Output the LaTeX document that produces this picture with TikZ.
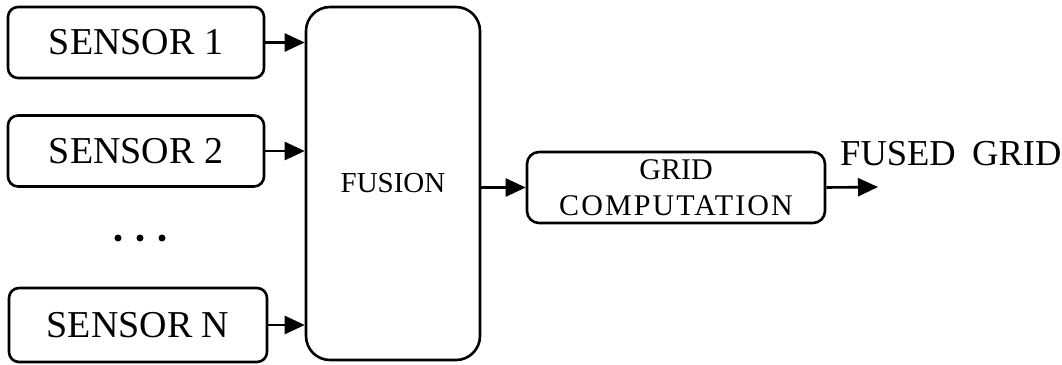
\documentclass[tikz,border=0pt]{standalone}
\usepackage{fontspec}
\setmainfont{Liberation Serif}
\usetikzlibrary{arrows.meta}
\tikzset{
  box/.style={draw, line width=2.6pt, rounded corners=10pt, inner sep=0pt, align=center},
  sensorbox/.style={box, minimum width=256pt, minimum height=71pt, font=\fontsize{38}{40}\selectfont},
  link/.style={line width=2.6pt, -{Triangle[length=20pt,width=18pt]}},
  dot/.style={circle, fill=black, inner sep=0pt, minimum size=7pt},
}
\begin{document}
\begin{tikzpicture}[x=1pt, y=-1pt]
\useasboundingbox (0,0) rectangle (1062,364);
% sensor inputs
\node[sensorbox] (s1) at (136,42.5) {SENSOR 1};
\node[sensorbox] (s2) at (136,151) {SENSOR 2};
\node[sensorbox, minimum width=258pt, minimum height=74pt] (sn) at (138,325) {SENSOR N};
\node[dot] (d1) at (118,238) {};
\node[dot] (d2) at (140,238) {};
\node[dot] (d3) at (162,238) {};
% fusion stage
\node[box, rounded corners=24pt, minimum width=174pt, minimum height=353pt,
      font=\fontsize{29}{30}\selectfont] (fu) at (393,183.5) {FUSION};
% grid computation
\node[box, rounded corners=12pt, minimum width=298pt, minimum height=71pt,
      font=\fontsize{30}{36}\selectfont] (gc) at (676,187.5)
      {GRID\\{\addfontfeatures{LetterSpace=7}COMPUTATION}};
\coordinate (out) at (878,187);
\node[anchor=base west, inner sep=0pt, font=\fontsize{36.5}{40}\selectfont] (lbl) at (840,165) {FUSED\hspace{0.45em}GRID};
% connectors
\draw[link] (s1.east) -- (s1.east -| fu.west);
\draw[link] (s2.east) -- (s2.east -| fu.west);
\draw[link] (sn.east) -- (sn.east -| fu.west);
\draw[link] (fu.east |- gc.west) -- (gc.west);
\draw[link] (gc.east) -- (out);
\end{tikzpicture}
\end{document}
